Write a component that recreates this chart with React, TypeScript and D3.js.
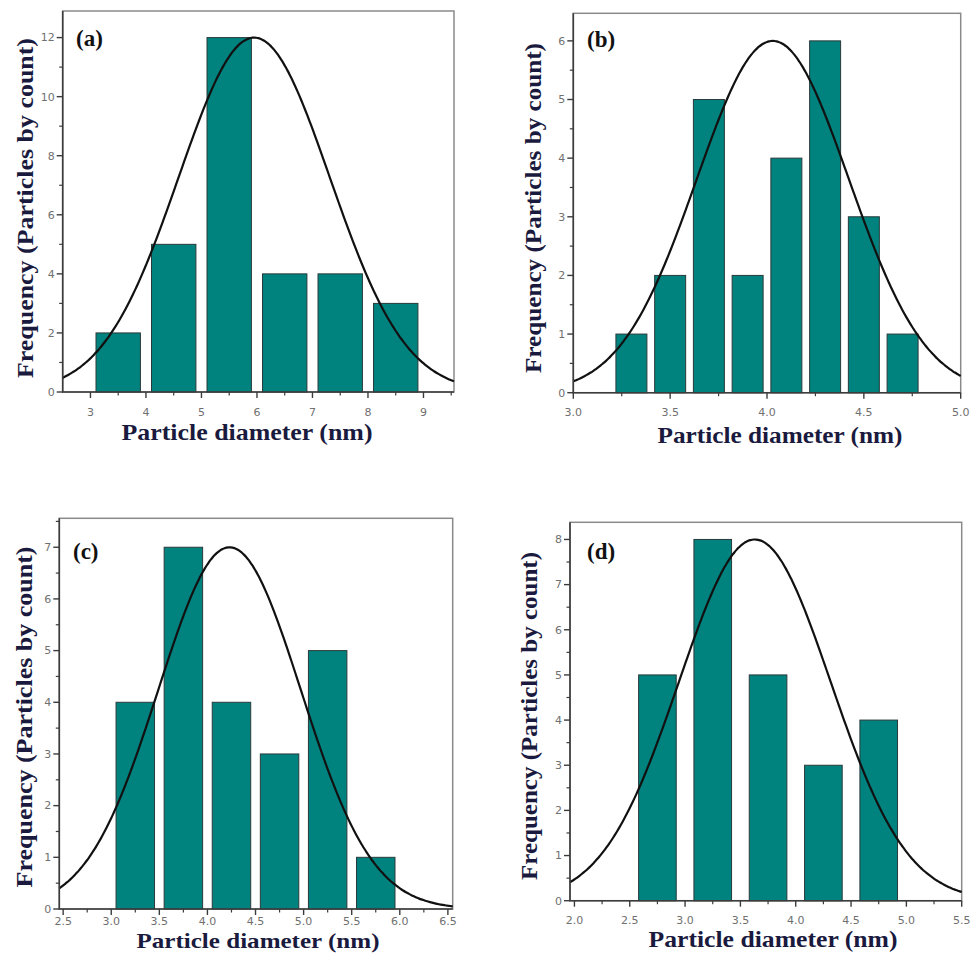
import React from 'react';
import { scaleLinear, range, line, curveBasis } from 'd3';

// histogram data
const panelLabels = ['(a)', '(b)', '(c)', '(d)'];

const centersA = [3.5, 4.5, 5.5, 6.5, 7.5, 8.5];
const countsA = [2, 5, 12, 4, 4, 3];

const centersB = [3.3, 3.5, 3.7, 3.9, 4.1, 4.3, 4.5, 4.7];
const countsB = [1, 2, 5, 2, 4, 6, 3, 1];

const centersC = [3.25, 3.75, 4.25, 4.75, 5.25, 5.75];
const countsC = [4, 7, 4, 3, 5, 1];

const centersD = [2.75, 3.25, 3.75, 4.25, 4.75];
const countsD = [5, 8, 5, 3, 4];

// gaussian fit parameters (peak height, mean, sigma)
const fitPeaks = [12, 6, 7, 8];
const fitMeans = [5.95, 4.03, 4.23, 3.63];
const fitSigmas = [1.36, 0.393, 0.74, 0.685];

const xTitle = 'Particle diameter (nm)';
const yTitle = 'Frequency (Particles by count)';

const TEAL = '#00827e';
const TITLE_COLOR = '#1a1a3e';
const SERIF = "'Times New Roman', 'Liberation Serif', 'DejaVu Serif', serif";
const SANS = "'DejaVu Sans', Verdana, sans-serif";

const panels = [
  {
    centers: centersA, counts: countsA, barW: 0.8,
    frame: { left: 62.7, top: 11, right: 454, bottom: 392 },
    xDomain: [2.5, 9.55], yDomain: [0, 12.9],
    xMajor: 1, xMinor: 0.5, xFirst: 3, xLast: 9, xFmt: (v: number) => v.toFixed(0),
    yMajor: 2, yMinor: 1, yLast: 12, tickOff: 24,
    tag: { x: 76, y: 46 },
    xt: { x: 247, y: 440, len: 251, size: 24 }, yt: { x: 33, y: 208, len: 340 },
  },
  {
    centers: centersB, counts: countsB, barW: 0.16,
    frame: { left: 573.3, top: 13.3, right: 960.7, bottom: 392.7 },
    xDomain: [3, 5], yDomain: [0, 6.47],
    xMajor: 0.5, xMinor: 0.25, xFirst: 3, xLast: 5, xFmt: (v: number) => v.toFixed(1),
    yMajor: 1, yMinor: 0.5, yLast: 6, tickOff: 23,
    tag: { x: 587, y: 47 },
    xt: { x: 780, y: 443, len: 245, size: 24 }, yt: { x: 541, y: 208, len: 330 },
  },
  {
    centers: centersC, counts: countsC, barW: 0.4,
    frame: { left: 59.3, top: 518.3, right: 452.7, bottom: 909 },
    xDomain: [2.46, 6.55], yDomain: [0, 7.56],
    xMajor: 0.5, xMinor: 0.25, xFirst: 2.5, xLast: 6.5, xFmt: (v: number) => v.toFixed(1),
    yMajor: 1, yMinor: 0.5, yLast: 7, tickOff: 15.5,
    tag: { x: 73, y: 559 },
    xt: { x: 258, y: 948, len: 243, size: 22 }, yt: { x: 32, y: 717, len: 341 },
  },
  {
    centers: centersD, counts: countsD, barW: 0.34,
    frame: { left: 570, top: 522.3, right: 961.7, bottom: 900.7 },
    xDomain: [1.96, 5.5], yDomain: [0, 8.38],
    xMajor: 0.5, xMinor: 0.25, xFirst: 2, xLast: 5.5, xFmt: (v: number) => v.toFixed(1),
    yMajor: 1, yMinor: 0.5, yLast: 8, tickOff: 23,
    tag: { x: 587, y: 559 },
    xt: { x: 773, y: 947, len: 249, size: 24 }, yt: { x: 537, y: 716, len: 328 },
  },
];

const stepTicks = (start: number, stop: number, step: number) =>
  range(0, Math.round((stop - start) / step) + 1).map(i => +(start + i * step).toFixed(4));

const Panel = (props: any) => {
  const { p, idx } = props;
  const { frame } = p;
  const x = scaleLinear().domain(p.xDomain).range([frame.left, frame.right]);
  const y = scaleLinear().domain(p.yDomain).range([frame.bottom, frame.top]);

  const xMajors = stepTicks(p.xFirst, p.xLast, p.xMajor);
  const xMinors = stepTicks(p.xFirst - p.xMinor, p.xLast + p.xMinor, p.xMinor)
    .filter(v => v > p.xDomain[0] && v < p.xDomain[1] && !xMajors.includes(v));
  const yMajors = stepTicks(0, p.yLast, p.yMajor);
  const yMinors = stepTicks(0, p.yLast + p.yMinor, p.yMinor)
    .filter(v => v < p.yDomain[1] && !yMajors.includes(v));

  const peak = fitPeaks[idx], mu = fitMeans[idx], sd = fitSigmas[idx];
  const xs = range(0, 201).map(i => p.xDomain[0] + (p.xDomain[1] - p.xDomain[0]) * i / 200);
  const fitLine = line<number>()
    .x(v => x(v))
    .y(v => y(peak * Math.exp(-((v - mu) ** 2) / (2 * sd * sd))))
    .curve(curveBasis);

  return (
    <g>
      {/* frame */}
      <rect x={frame.left} y={frame.top} width={frame.right - frame.left}
        height={frame.bottom - frame.top} fill="white" stroke="#8a8a8a" strokeWidth={1.5} />

      {/* bars */}
      {p.centers.map((c: number, i: number) => (
        <rect key={i}
          x={x(c - p.barW / 2)}
          y={y(p.counts[i])}
          width={x(c + p.barW / 2) - x(c - p.barW / 2)}
          height={y(0) - y(p.counts[i])}
          fill={TEAL}
          stroke="#2a3a3a"
          strokeWidth={1}
        />
      ))}

      {/* fit curve */}
      <path d={fitLine(xs) || ''} fill="none" stroke="#111" strokeWidth={2.2} />

      {/* axes */}
      <path d={`M ${frame.left} ${frame.top} V ${frame.bottom} H ${frame.right}`}
        fill="none" stroke="#3c3c3c" strokeWidth={1.6} />

      {xMajors.map(v => (
        <g key={'xM' + v} transform={`translate(${x(v)}, ${frame.bottom})`}>
          <line y1={0} y2={6} stroke="#3c3c3c" strokeWidth={1.4} />
          <text y={p.tickOff} textAnchor="middle" fill="#707070"
            style={{ fontFamily: SANS, fontSize: '11px' }}>{p.xFmt(v)}</text>
        </g>
      ))}
      {xMinors.map(v => (
        <line key={'xm' + v} x1={x(v)} x2={x(v)} y1={frame.bottom} y2={frame.bottom + 3.5}
          stroke="#3c3c3c" strokeWidth={1.2} />
      ))}
      {yMajors.map(v => (
        <g key={'yM' + v} transform={`translate(${frame.left}, ${y(v)})`}>
          <line x1={0} x2={-6} stroke="#3c3c3c" strokeWidth={1.4} />
          <text x={-8} dy="0.35em" textAnchor="end" fill="#707070"
            style={{ fontFamily: SANS, fontSize: '11px' }}>{v}</text>
        </g>
      ))}
      {yMinors.map(v => (
        <line key={'ym' + v} x1={frame.left} x2={frame.left - 3.5} y1={y(v)} y2={y(v)}
          stroke="#3c3c3c" strokeWidth={1.2} />
      ))}

      {/* panel tag */}
      <text x={p.tag.x} y={p.tag.y} fill="#111"
        style={{ fontFamily: SERIF, fontWeight: 'bold', fontSize: '23px' }}>
        {panelLabels[idx]}
      </text>

      {/* titles */}
      <text x={p.xt.x} y={p.xt.y} textAnchor="middle" fill={TITLE_COLOR}
        textLength={p.xt.len} lengthAdjust="spacingAndGlyphs"
        style={{ fontFamily: SERIF, fontWeight: 'bold', fontSize: `${p.xt.size}px` }}>
        {xTitle}
      </text>
      <text transform={`translate(${p.yt.x}, ${p.yt.y}) rotate(-90)`} textAnchor="middle"
        fill={TITLE_COLOR}
        textLength={p.yt.len} lengthAdjust="spacingAndGlyphs"
        style={{ fontFamily: SERIF, fontWeight: 'bold', fontSize: '24px' }}>
        {yTitle}
      </text>
    </g>
  );
};

const App = () => {
  return (
    <svg width={980} height={964}
      style={{ position: 'absolute', left: 0, top: 0, background: 'white' }}>
      <rect width={980} height={964} fill="white" />
      {panels.map((p, i) => <Panel key={i} p={p} idx={i} />)}
    </svg>
  );
};

export default App;
